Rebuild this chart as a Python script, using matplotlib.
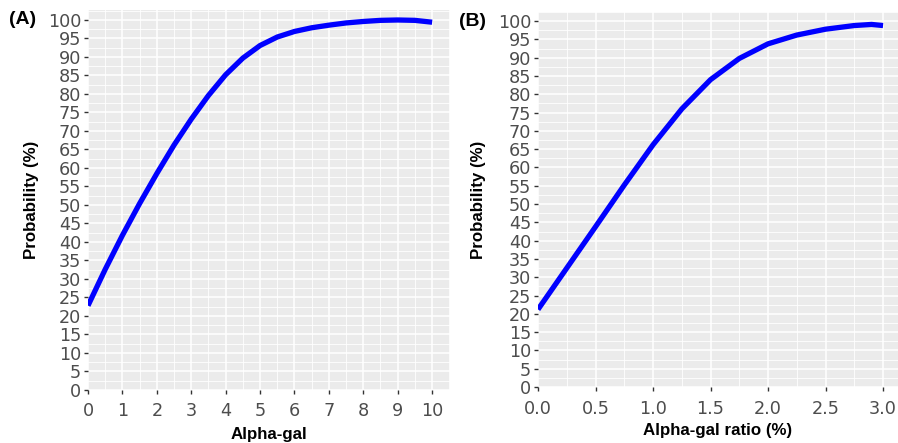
import matplotlib.pyplot as plt
import numpy as np
from matplotlib.ticker import MultipleLocator

plt.rcParams['font.family'] = ['Liberation Sans', 'DejaVu Sans']

# panel A: probability vs alpha-gal
alpha_gal = [0, 0.5, 1, 1.5, 2, 2.5, 3, 3.5, 4, 4.5, 5, 5.5, 6, 6.5, 7, 7.5, 8, 8.5, 9, 9.5, 10]
prob_a = [22.8, 32.6, 41.8, 50.4, 58.5, 66.2, 73.2, 79.6, 85.2, 89.7, 93.1, 95.4, 96.9, 97.9,
          98.6, 99.2, 99.6, 99.9, 100, 99.9, 99.4]

# panel B: probability vs alpha-gal ratio (%)
ratio = [0, 0.25, 0.5, 0.75, 1.0, 1.25, 1.5, 1.75, 2.0, 2.25, 2.5, 2.75, 2.9, 3.0]
prob_b = [21.2, 32.5, 43.8, 55.2, 66.2, 76.0, 84.0, 89.8, 93.8, 96.2, 97.8, 98.8, 99.1, 98.8]

fig = plt.figure(figsize=(8.98, 4.43), dpi=100)
ax_a = fig.add_axes([88/898, 53/443, 362/898, 380/443])
ax_b = fig.add_axes([538/898, 56/443, 360/898, 375/443])

def style(ax, xmax, xmaj, xmin, ymax, ylab_x):
    ax.set_facecolor('#EBEBEB')
    ax.set_xlim(0, xmax)
    ax.set_ylim(0, ymax)
    ax.xaxis.set_major_locator(MultipleLocator(xmaj))
    ax.xaxis.set_minor_locator(MultipleLocator(xmin))
    ax.yaxis.set_major_locator(MultipleLocator(5))
    ax.yaxis.set_minor_locator(MultipleLocator(2.5))
    ax.grid(which='major', color='white', lw=1.1)
    ax.grid(which='minor', color='white', lw=0.6)
    ax.set_axisbelow(True)
    for s in ax.spines.values():
        s.set_visible(False)
    ax.tick_params(which='major', length=3, width=1, color='#333333',
                   labelsize=12.7, labelcolor='#4D4D4D')
    ax.tick_params(axis='y', pad=2)
    ax.tick_params(axis='x', pad=6)
    ax.tick_params(which='minor', length=0)
    for lab in ax.get_xticklabels() + ax.get_yticklabels():
        lab.set_family('DejaVu Sans')
    ax.set_ylabel('Probability (%)', fontsize=12.2, fontweight='bold')
    ax.yaxis.set_label_coords(ylab_x, 0.5)

ax_a.plot(alpha_gal, prob_a, color='#0000FF', lw=3.8, solid_capstyle='butt')
ax_a.set_xticks(range(0, 11))
style(ax_a, 10.52, 1, 0.5, 102.7, -0.135)
ax_a.set_xlabel('Alpha-gal', fontsize=12.2, fontweight='bold', va='top')
ax_a.xaxis.set_label_coords(0.5, -0.097)

ax_b.plot(ratio, prob_b, color='#0000FF', lw=3.8, solid_capstyle='butt')
ax_b.set_xticks(np.arange(0, 3.01, 0.5))
ax_b.set_xticklabels(['0.0', '0.5', '1.0', '1.5', '2.0', '2.5', '3.0'])
style(ax_b, 3.13, 0.5, 0.25, 102.5, -0.144)
ax_b.set_xlabel('Alpha-gal ratio (%)', fontsize=12.2, fontweight='bold', va='top')
ax_b.xaxis.set_label_coords(0.5, -0.096)

fig.text(9/898, 1 - 20/443, '(A)', fontsize=14, fontweight='bold', va='center', ha='left')
fig.text(459/898, 1 - 21/443, '(B)', fontsize=14, fontweight='bold', va='center', ha='left')

fig.savefig('out.png', dpi=100)
